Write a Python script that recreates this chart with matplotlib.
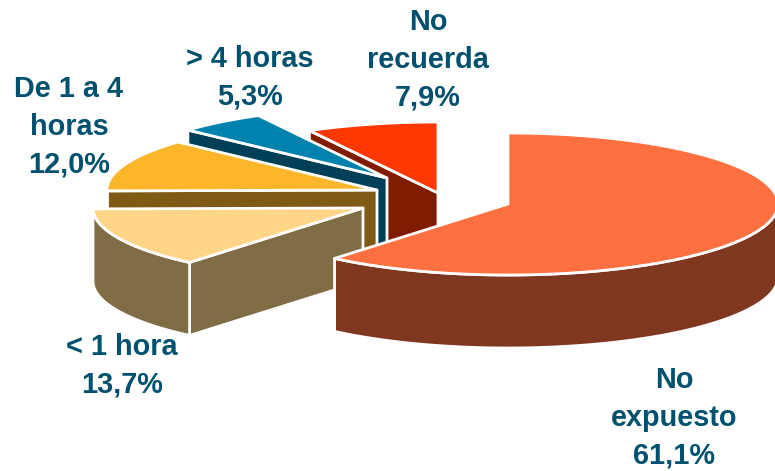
import numpy as np
import matplotlib
matplotlib.use("Agg")
import matplotlib.pyplot as plt
from matplotlib.patches import Polygon

categories = ["No\nexpuesto", "< 1 hora", "De 1 a 4\nhoras", "> 4 horas", "No\nrecuerda"]
values = [61.1, 13.7, 12.0, 5.3, 7.9]

top_colors = ["#FF7040", "#FFD588", "#FDB52A", "#0082AE", "#FF3700"]
wall_colors = ["#7F3720", "#806C45", "#7E5A14", "#003F58", "#801C00"]
centers = [(508, 204), (363, 208), (377, 190), (387, 178), (438, 193)]
label_pos = [(674, 418), (122, 366), (69, 127), (250, 78), (428, 60)]

RX, RY, DEPTH = 270, 71, 73
TEXT = "#00516F"

W, H = 775, 471
fig = plt.figure(figsize=(W / 100, H / 100), dpi=100)
ax = fig.add_axes([0, 0, 1, 1])
ax.set_xlim(0, W)
ax.set_ylim(H, 0)
ax.axis("off")


def pt(c, deg, dy=0.0):
    """Point on the rim; angles run clockwise from 12 o'clock."""
    t = np.radians(deg)
    return np.column_stack([c[0] + RX * np.sin(t), c[1] - RY * np.cos(t) + dy])


cum = np.concatenate([[0], np.cumsum(values)]) * 3.6
for i in reversed(range(len(values))):
    a, b, c = cum[i], cum[i + 1], centers[i]
    apex = np.array([c])
    kw = dict(edgecolor="white", linewidth=2.0, joinstyle="round")

    # cut face that looks towards the viewer
    start = pt(c, a)
    wall = np.vstack([apex, start, start + [0, DEPTH], apex + [0, DEPTH]])
    if i > 0:
        ax.add_patch(Polygon(wall, closed=True, facecolor=wall_colors[i], zorder=i * -10 + 1, **kw))

    # outer rim wall, only its front half
    lo, hi = max(a, 90), min(b, 270)
    if hi > lo:
        th = np.linspace(lo, hi, 120)
        rim = pt(c, th)
        poly = np.vstack([rim, (rim + [0, DEPTH])[::-1]])
        ax.add_patch(Polygon(poly, closed=True, facecolor=wall_colors[i], zorder=i * -10 + 2, **kw))

    # top face
    th = np.linspace(a, b, 200)
    ax.add_patch(Polygon(np.vstack([apex, pt(c, th)]), closed=True,
                         facecolor=top_colors[i], zorder=i * -10 + 3, **kw))

for name, val, (x, y) in zip(categories, values, label_pos):
    ax.text(x, y, f"{name}\n{val:.1f}%".replace(".", ","), ha="center", va="center",
            family=["Liberation Sans"], fontweight="bold", fontsize=20.8,
            color=TEXT, linespacing=1.45, zorder=10)

fig.savefig("out.png", dpi=100)
